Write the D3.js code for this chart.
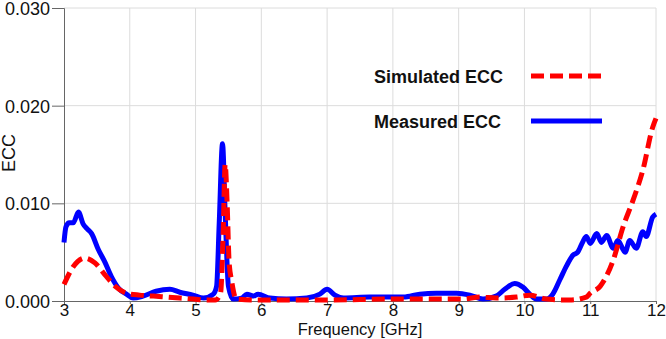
<!DOCTYPE html>
<html>
<head>
<meta charset="utf-8">
<script src="https://cdn.jsdelivr.net/npm/d3@7"></script>
<style>
  body { margin: 0; background: #fff; }
  svg { font-family: "Liberation Sans", Arial, sans-serif; }
</style>
</head>
<body>
<svg id="chart" width="666" height="339"></svg>
<script>
// measured ECC (blue solid)
var measFreq = [3.00, 3.03, 3.08, 3.14, 3.22, 3.29, 3.35, 3.42, 3.52, 3.62, 3.72, 3.83, 3.95, 4.05, 4.20, 4.40, 4.61, 4.76, 4.96, 5.12, 5.27, 5.32, 5.36, 5.41, 5.45, 5.50, 5.57, 5.70, 5.78, 5.88, 5.95, 6.13, 6.38, 6.69, 6.89, 7.00, 7.12, 7.25, 7.65, 8.16, 8.41, 8.66, 8.77, 8.97, 9.17, 9.37, 9.57, 9.70, 9.85, 9.98, 10.08, 10.18, 10.33, 10.43, 10.54, 10.64, 10.74, 10.81, 10.89, 10.94, 11.00, 11.10, 11.17, 11.25, 11.35, 11.42, 11.53, 11.60, 11.70, 11.80, 11.85, 11.95, 12.00];
var measEcc = [0.0060, 0.0076, 0.0080, 0.0080, 0.0091, 0.0079, 0.0074, 0.0069, 0.0053, 0.0040, 0.0025, 0.0013, 0.0007, 0.0003, 0.0005, 0.0010, 0.0012, 0.0009, 0.0006, 0.0003, 0.0007, 0.0015, 0.0080, 0.0161, 0.0090, 0.0015, 0.0002, 0.0003, 0.0007, 0.0005, 0.0007, 0.0003, 0.0002, 0.0003, 0.0007, 0.0012, 0.0006, 0.0003, 0.0004, 0.0004, 0.0007, 0.0008, 0.0008, 0.0008, 0.0006, 0.0002, 0.0005, 0.0012, 0.0018, 0.0014, 0.0007, 0.0002, 0.0002, 0.0007, 0.0022, 0.0036, 0.0047, 0.0050, 0.0061, 0.0066, 0.0059, 0.0069, 0.0060, 0.0067, 0.0054, 0.0062, 0.0050, 0.0062, 0.0054, 0.0071, 0.0066, 0.0086, 0.0089];

// simulated ECC (red dashed)
var simFreq = [3.00, 3.14, 3.32, 3.47, 3.62, 3.78, 3.95, 4.15, 4.36, 4.56, 4.76, 4.97, 5.17, 5.30, 5.38, 5.42, 5.45, 5.48, 5.51, 5.55, 5.62, 6.00, 7.00, 8.00, 8.66, 9.07, 9.32, 9.57, 9.88, 10.08, 10.33, 10.69, 10.94, 11.00, 11.15, 11.35, 11.50, 11.65, 11.80, 11.95, 12.00];
var simEcc = [0.0017, 0.0035, 0.0044, 0.0039, 0.0027, 0.0015, 0.0008, 0.0006, 0.0005, 0.0004, 0.0003, 0.0002, 0.0001, 0.0001, 0.0008, 0.0070, 0.0140, 0.0100, 0.0040, 0.0020, 0.0002, 0.0001, 0.0001, 0.0002, 0.0002, 0.0002, 0.0004, 0.0003, 0.0004, 0.0006, 0.0002, 0.0001, 0.0004, 0.0008, 0.0015, 0.0042, 0.0076, 0.0103, 0.0134, 0.0178, 0.0187];

var xTicks = [3, 4, 5, 6, 7, 8, 9, 10, 11, 12];
var yTicks = [0, 0.01, 0.02, 0.03];
var legendNames = ["Simulated ECC", "Measured ECC"];

var svg = d3.select("#chart"),
    margin = {top: 8, right: 10, bottom: 38, left: 64},
    width = +svg.attr("width") - margin.left - margin.right,
    height = +svg.attr("height") - margin.top - margin.bottom;

var g = svg.append("g").attr("transform", "translate(" + margin.left + "," + margin.top + ")");

var x = d3.scaleLinear().domain([3, 12]).range([0, width]);
var y = d3.scaleLinear().domain([0, 0.03]).range([height, 0]);

// grid
g.append("g").selectAll("line").data(xTicks.slice(1)).enter().append("line")
    .attr("x1", function(d) { return x(d); }).attr("x2", function(d) { return x(d); })
    .attr("y1", 0).attr("y2", height)
    .attr("stroke", "#dcdcdc").attr("stroke-width", 1);
g.append("g").selectAll("line").data(yTicks.slice(1)).enter().append("line")
    .attr("x1", 0).attr("x2", width)
    .attr("y1", function(d) { return y(d); }).attr("y2", function(d) { return y(d); })
    .attr("stroke", "#dcdcdc").attr("stroke-width", 1);

// axes
var xAxis = g.append("g").attr("transform", "translate(0," + height + ")")
    .call(d3.axisBottom(x).tickValues(xTicks).tickFormat(d3.format("d")).tickSize(3).tickPadding(0));
var yAxis = g.append("g")
    .call(d3.axisLeft(y).tickValues(yTicks).tickFormat(d3.format(".3f")).tickSize(12).tickPadding(2));

[xAxis, yAxis].forEach(function(a) {
    a.select(".domain").attr("stroke", "#666");
    a.selectAll(".tick line").attr("stroke", "#666");
    a.selectAll("text").attr("fill", "#111").style("font-size", "18px")
        .style("font-family", "'Liberation Sans', Arial, sans-serif");
});
xAxis.selectAll("text").style("font-size", "17px");
yAxis.selectAll("text").attr("dy", "0.36em");

svg.append("text")
    .attr("x", margin.left + width / 2).attr("y", 335)
    .attr("text-anchor", "middle").style("font-size", "16.5px").attr("fill", "#111")
    .text("Frequency [GHz]");
svg.append("text")
    .attr("transform", "translate(15,153) rotate(-90)")
    .attr("text-anchor", "middle").style("font-size", "18px").attr("fill", "#111")
    .text("ECC");

// curves
var line = d3.line()
    .x(function(d) { return x(d[0]); })
    .y(function(d) { return y(d[1]); })
    .curve(d3.curveMonotoneX);

var meas = d3.zip(measFreq, measEcc);
var sim = d3.zip(simFreq, simEcc);

g.append("path").datum(meas)
    .attr("d", line).attr("fill", "none")
    .attr("stroke", "#0000ff").attr("stroke-width", 5)
    .attr("stroke-linejoin", "round");

g.append("path").datum(sim)
    .attr("d", line).attr("fill", "none")
    .attr("stroke", "#ff0000").attr("stroke-width", 5)
    .attr("stroke-dasharray", "13,6");

// legend
var legendY = [76, 121];
legendNames.forEach(function(name, i) {
    svg.append("text")
        .attr("x", 374).attr("y", legendY[i] + 7)
        .style("font-size", "18px").style("font-weight", "bold").attr("fill", "#111")
        .text(name);
    svg.append("line")
        .attr("x1", 531).attr("x2", 602)
        .attr("y1", legendY[i]).attr("y2", legendY[i])
        .attr("stroke", i == 0 ? "#ff0000" : "#0000ff")
        .attr("stroke-width", 5)
        .attr("stroke-dasharray", i == 0 ? "13,6" : null);
});
</script>
</body>
</html>
